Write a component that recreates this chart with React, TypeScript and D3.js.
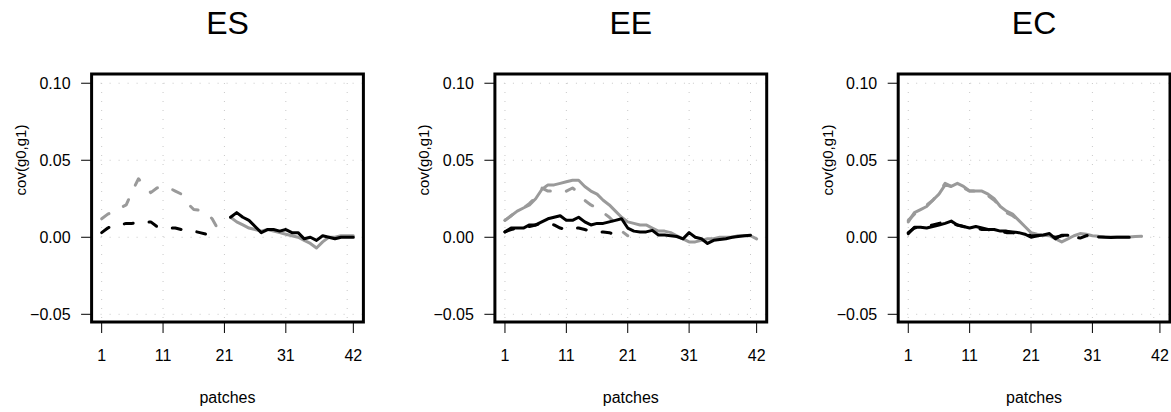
import React from "react";
import * as d3 from "d3";

// ---------- labels / ticks ----------
const panelTitles = ["ES", "EE", "EC"];
const xTicks = [1, 11, 21, 31, 42];
const xGrid = [1, 11, 21, 31, 41];
const yTicks = [-0.05, 0, 0.05, 0.1];
const yTickLabels = ["\u22120.05", "0.00", "0.05", "0.10"];
const xLabel = "patches";
const yLabel = "cov(g0,g1)";

// ---------- data: ES ----------
const esGreyDashStart = 1;
const esGreyDash = [0.012, 0.015, 0.017, 0.019, 0.021, 0.030, 0.038, 0.033, 0.029, 0.032, 0.033, 0.032, 0.030, 0.028, 0.022, 0.018, 0.0175, 0.016, 0.012, 0.005, 0.001];
const esBlackDashStart = 1;
const esBlackDash = [0.003, 0.006, 0.008, 0.008, 0.009, 0.009, 0.010, 0.010, 0.010, 0.007, 0.006, 0.006, 0.006, 0.005, 0.004, 0.004, 0.003, 0.002, 0.001, 0.001];
const esGreySolidStart = 22;
const esGreySolid = [0.013, 0.010, 0.008, 0.006, 0.005, 0.004, 0.005, 0.004, 0.003, 0.002, 0.001, 0.000, -0.002, -0.004, -0.007, -0.003, 0.000, 0.000, 0.001, 0.001, 0.001];
const esBlackSolidStart = 22;
const esBlackSolid = [0.013, 0.016, 0.013, 0.011, 0.007, 0.003, 0.005, 0.005, 0.004, 0.005, 0.003, 0.003, -0.001, 0.000, -0.002, 0.001, 0.000, -0.001, 0.000, 0.000, 0.000];

// ---------- data: EE ----------
const eeGreySolidStart = 1;
const eeGreySolid = [0.011, 0.014, 0.017, 0.019, 0.021, 0.025, 0.031, 0.034, 0.034, 0.035, 0.036, 0.037, 0.037, 0.033, 0.030, 0.028, 0.024, 0.021, 0.017, 0.013, 0.010, 0.009, 0.008, 0.008, 0.006, 0.004, 0.004, 0.003, 0.001, -0.001, -0.003, -0.003, -0.002, -0.001, -0.001, 0.000, 0.000, 0.000, 0.001, 0.001, 0.001, -0.001];
const eeGreyDashStart = 1;
const eeGreyDash = [0.011, 0.014, 0.017, 0.019, 0.022, 0.026, 0.032, 0.030, 0.030, 0.030, 0.030, 0.032, 0.029, 0.024, 0.021, 0.019, 0.016, 0.013, 0.009, 0.004, 0.001];
const eeBlackSolidStart = 1;
const eeBlackSolid = [0.0035, 0.006, 0.006, 0.006, 0.008, 0.008, 0.010, 0.012, 0.013, 0.014, 0.011, 0.011, 0.013, 0.010, 0.008, 0.009, 0.009, 0.010, 0.011, 0.012, 0.006, 0.004, 0.0035, 0.0035, 0.0045, 0.0015, 0.0015, 0.001, 0.0005, -0.001, 0.003, 0.000, -0.001, -0.004, -0.002, -0.0015, -0.001, 0.000, 0.0005, 0.001, 0.0013];
const eeBlackDashStart = 1;
const eeBlackDash = [0.0035, 0.005, 0.006, 0.006, 0.007, 0.008, 0.009, 0.009, 0.008, 0.006, 0.005, 0.006, 0.006, 0.005, 0.004, 0.0035, 0.0035, 0.003, 0.0015, 0.001];

// ---------- data: EC ----------
const ecGreySolidStart = 1;
const ecGreySolid = [0.010, 0.016, 0.018, 0.020, 0.024, 0.028, 0.034, 0.033, 0.035, 0.033, 0.030, 0.030, 0.030, 0.028, 0.025, 0.020, 0.017, 0.015, 0.011, 0.007, 0.003, 0.002, 0.0013, 0.001, -0.001, -0.003, -0.001, 0.001, 0.0024, 0.002, 0.001, 0.0006, 0.0003, 0.0002, 0.0002, 0.0002, 0.0002, 0.0005, 0.0006];
const ecGreyDashStart = 1;
const ecGreyDash = [0.011, 0.015, 0.018, 0.021, 0.024, 0.029, 0.035, 0.033, 0.034, 0.032, 0.030, 0.030, 0.029, 0.027, 0.024, 0.020, 0.016, 0.014, 0.011, 0.007];
const ecBlackSolidStart = 1;
const ecBlackSolid = [0.0024, 0.0065, 0.0065, 0.006, 0.007, 0.008, 0.009, 0.0105, 0.008, 0.007, 0.006, 0.007, 0.006, 0.005, 0.005, 0.004, 0.004, 0.0035, 0.003, 0.002, 0.000, 0.001, 0.0015, 0.0024, -0.001, 0.0013, 0.0013, null, null, null, null, 0.0002, 0.0000, -0.0002, 0.0000, 0.0000, 0.0000];
const ecBlackDashStart = 1;
const ecBlackDash = [0.003, 0.006, 0.007, 0.007, 0.008, 0.009, 0.010, 0.009, 0.008, 0.007, 0.006, 0.006, 0.005, 0.005, 0.004, 0.004, 0.003, 0.003, 0.002, 0.002, 0.001, 0.001, 0.001, 0.001, 0.000, 0.001, 0.001, 0.000, -0.0005, 0.001, 0.002];

// ---------- styling ----------
const GREY = "#9a9a9a";
const BLACK = "#000000";
const FONT = "'Liberation Sans', Arial, Helvetica, sans-serif";
const W = 1171;
const H = 412;
const PANEL_W = 403.3;

type Series = { start: number; values: (number | null)[]; color: string; dashed: boolean };

const panels: Series[][] = [
  [
    { start: esGreyDashStart, values: esGreyDash, color: GREY, dashed: true },
    { start: esBlackDashStart, values: esBlackDash, color: BLACK, dashed: true },
    { start: esGreySolidStart, values: esGreySolid, color: GREY, dashed: false },
    { start: esBlackSolidStart, values: esBlackSolid, color: BLACK, dashed: false },
  ],
  [
    { start: eeGreySolidStart, values: eeGreySolid, color: GREY, dashed: false },
    { start: eeGreyDashStart, values: eeGreyDash, color: GREY, dashed: true },
    { start: eeBlackSolidStart, values: eeBlackSolid, color: BLACK, dashed: false },
    { start: eeBlackDashStart, values: eeBlackDash, color: BLACK, dashed: true },
  ],
  [
    { start: ecGreySolidStart, values: ecGreySolid, color: GREY, dashed: false },
    { start: ecGreyDashStart, values: ecGreyDash, color: GREY, dashed: true },
    { start: ecBlackSolidStart, values: ecBlackSolid, color: BLACK, dashed: false },
    { start: ecBlackDashStart, values: ecBlackDash, color: BLACK, dashed: true },
  ],
];

function Panel({ idx, title, series }: { idx: number; title: string; series: Series[] }) {
  const ox = idx * PANEL_W;
  const x = d3.scaleLinear().domain([-0.64, 43.64]).range([ox + 91.6, ox + 363.4]);
  const y = d3.scaleLinear().domain([-0.055, 0.106]).range([322, 74]);
  const [x0, x1] = x.range();
  const [yb, yt] = y.range();
  const line = d3
    .line<[number, number | null]>()
    .defined((d) => d[1] !== null)
    .x((d) => x(d[0]))
    .y((d) => y(d[1] as number));
  const cx = (x0 + x1) / 2;

  return (
    <g>
      {/* grid */}
      {xGrid.map((v) => (
        <line key={"gx" + v} x1={x(v)} x2={x(v)} y1={yt} y2={yb} stroke="#c8c8c8" strokeWidth={1} strokeDasharray="1 8" />
      ))}
      {yTicks.map((v) => (
        <line key={"gy" + v} x1={x0} x2={x1} y1={y(v)} y2={y(v)} stroke="#c8c8c8" strokeWidth={1} strokeDasharray="1 8" />
      ))}
      {/* data */}
      {series.map((s, i) => {
        const pts: [number, number | null][] = s.values.map((v, j) => [s.start + j, v]);
        return (
          <path
            key={i}
            d={line(pts) || ""}
            fill="none"
            stroke={s.color}
            strokeWidth={3}
            strokeLinecap="round"
            strokeLinejoin="round"
            strokeDasharray={s.dashed ? "9 16" : undefined}
          />
        );
      })}
      {/* box */}
      <rect x={x0} y={yt} width={x1 - x0} height={yb - yt} fill="none" stroke="#000" strokeWidth={3} />
      {/* y axis ticks */}
      {yTicks.map((v, i) => (
        <g key={"yt" + v}>
          <line x1={x0 - 10.5} x2={x0} y1={y(v)} y2={y(v)} stroke="#000" strokeWidth={1} />
          <text x={x0 - 21} y={y(v) + 5.6} textAnchor="end" fontSize={16} fontFamily={FONT}>
            {yTickLabels[i]}
          </text>
        </g>
      ))}
      {/* x axis ticks */}
      {xTicks.map((v) => (
        <g key={"xt" + v}>
          <line x1={x(v)} x2={x(v)} y1={yb} y2={yb + 11} stroke="#000" strokeWidth={1} />
          <text x={x(v)} y={361} textAnchor="middle" fontSize={16} fontFamily={FONT}>
            {v}
          </text>
        </g>
      ))}
      {/* titles */}
      <text x={cx} y={34} textAnchor="middle" fontSize={32} fontFamily={FONT}>
        {title}
      </text>
      <text x={cx} y={403} textAnchor="middle" fontSize={16} fontFamily={FONT}>
        {xLabel}
      </text>
      <text transform={`translate(${ox + 26},160) rotate(-90)`} textAnchor="middle" fontSize={15} fontFamily={FONT}>
        {yLabel}
      </text>
    </g>
  );
}

export default function App() {
  return (
    <svg
      width={W}
      height={H}
      viewBox={`0 0 ${W} ${H}`}
      style={{ position: "absolute", left: 0, top: 0, background: "#fff" }}
    >
      <rect x={0} y={0} width={W} height={H} fill="#fff" />
      {panelTitles.map((t, i) => (
        <Panel key={t} idx={i} title={t} series={panels[i]} />
      ))}
    </svg>
  );
}
